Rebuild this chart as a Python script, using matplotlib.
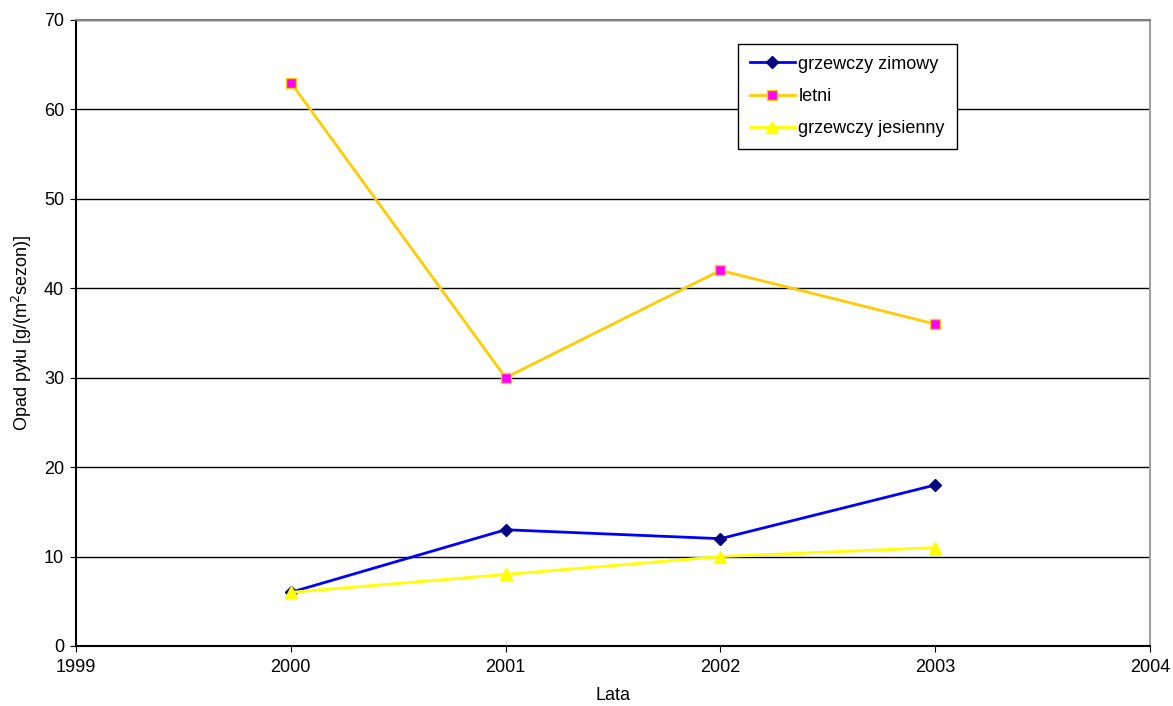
import matplotlib
matplotlib.use("Agg")
import matplotlib.pyplot as plt

plt.rcParams["font.family"] = ["Liberation Sans", "DejaVu Sans"]

years = [2000, 2001, 2002, 2003]
zimowy = [6, 13, 12, 18]
letni = [63, 30, 42, 36]
jesienny = [6, 8, 10, 11]

x_ticks = [1999, 2000, 2001, 2002, 2003, 2004]
y_ticks = [0, 10, 20, 30, 40, 50, 60, 70]

fig = plt.figure(figsize=(11.73, 7.06), dpi=100, facecolor="white")
ax = fig.add_axes([0.0648, 0.085, 0.9155, 0.8867])

# horizontal gridlines, drawn under the series
for y in y_ticks[1:]:
    ax.axhline(y, color="black", linewidth=1.0, zorder=1)

ax.plot(years, zimowy, color="#0000ff", linewidth=2, marker="D", markersize=6.5,
        markerfacecolor="#000080", markeredgecolor="#000080",
        label="grzewczy zimowy", zorder=3)
ax.plot(years, letni, color="#ffcc00", linewidth=2, marker="s", markersize=6.5,
        markerfacecolor="#ff00ff", markeredgecolor="#ffcc00",
        label="letni", zorder=3)
ax.plot(years, jesienny, color="#ffff00", linewidth=2, marker="^", markersize=9,
        markerfacecolor="#ffff00", markeredgecolor="#ffff00",
        label="grzewczy jesienny", zorder=4)

ax.set_xlim(1999, 2004)
ax.set_ylim(0, 70)
ax.set_xticks(x_ticks)
ax.set_yticks(y_ticks)
ax.tick_params(labelsize=13, length=4.5, color="black")
ax.tick_params(axis="x", pad=5)
ax.tick_params(axis="y", pad=4)

ax.spines["left"].set_color("black")
ax.spines["bottom"].set_color("black")
ax.spines["left"].set_linewidth(1.5)
ax.spines["bottom"].set_linewidth(1.5)
ax.spines["top"].set_color("#808080")
ax.spines["right"].set_color("#a0a0a0")
ax.spines["top"].set_linewidth(1.5)
ax.spines["right"].set_linewidth(1.5)

ax.set_xlabel("Lata", fontsize=13, labelpad=8)
ax.set_ylabel("Opad pyłu [g/(m$^2$sezon)]", fontsize=13, labelpad=7)

leg = ax.legend(loc="upper left", bbox_to_anchor=(0.6164, 0.9617), fontsize=13,
                frameon=True, fancybox=False, edgecolor="black",
                handlelength=2.5, handletextpad=0.2, borderpad=0.65,
                borderaxespad=0, labelspacing=0.85, framealpha=1)
leg.get_frame().set_linewidth(1.0)

fig.savefig("out.png", dpi=100, facecolor="white")
